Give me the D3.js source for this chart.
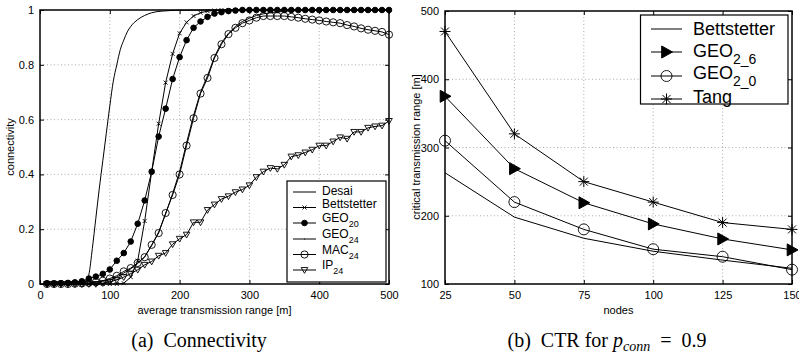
<!DOCTYPE html>
<html><head><meta charset="utf-8">
<script src="https://cdn.jsdelivr.net/npm/d3@7"></script>
<style>
body{margin:0;background:#fff;}
svg{display:block;}
text{font-family:"Liberation Sans",Arial,sans-serif;fill:#000;}
.cap{font-family:"Liberation Serif","Times New Roman",serif;}
</style></head>
<body><svg id="c" width="799" height="360"></svg>
<script>
// ---------- Data: (a) Connectivity ----------
const rangeX = [10,20,30,40,50,60,70,80,90,100,110,120,130,140,150,160,170,180,190,200,210,220,230,240,250,260,270,280,290,300,310,320,330,340,350,360,370,380,390,400,410,420,430,440,450,460,470,480,490,500];
const desaiX = [0,10,20,30,40,50,55,60,65,70,75,80,85,90,95,100,105,110,115,120,125,130,140,150,160,175,200,250,300,400,500];
const desaiY = [0,0,0,0,0,0.001,0.002,0.004,0.01,0.035,0.13,0.24,0.35,0.45,0.55,0.65,0.74,0.8,0.855,0.89,0.92,0.94,0.965,0.98,0.99,0.996,0.999,1,1,1,1];
const bettstetterA = [0,0,0,0,0,0,0,0,0,0,0,0.003,0.025,0.085,0.23,0.41,0.585,0.735,0.84,0.915,0.955,0.978,0.99,0.996,0.998,1,1,1,1,1,1,1,1,1,1,1,1,1,1,1,1,1,1,1,1,1,1,1,1,1];
const geo20 = [0.002,0.002,0.003,0.004,0.006,0.01,0.02,0.027,0.037,0.053,0.085,0.113,0.155,0.22,0.305,0.41,0.538,0.64,0.748,0.828,0.89,0.935,0.958,0.975,0.987,0.992,0.996,0.998,1,1,1,1,1,1,1,1,1,1,1,1,1,1,1,1,1,1,1,1,1,1];
const geo24 = [0,0,0,0,0.001,0.002,0.003,0.006,0.01,0.015,0.025,0.04,0.055,0.075,0.1,0.14,0.19,0.255,0.33,0.41,0.515,0.615,0.7,0.76,0.83,0.88,0.915,0.94,0.958,0.97,0.98,0.986,0.99,0.993,0.995,0.997,0.998,1,1,1,1,1,1,1,1,1,1,1,1,1];
const mac24 = [0,0,0,0,0.001,0.002,0.004,0.007,0.012,0.02,0.03,0.046,0.058,0.077,0.098,0.143,0.186,0.259,0.325,0.4,0.505,0.605,0.695,0.752,0.825,0.875,0.912,0.935,0.952,0.962,0.972,0.978,0.978,0.978,0.978,0.975,0.972,0.968,0.965,0.962,0.958,0.955,0.952,0.945,0.94,0.933,0.928,0.924,0.92,0.91];
const ip24 = [0,0,0,0,0,0,0,0,0.003,0.008,0.015,0.025,0.038,0.052,0.07,0.082,0.103,0.113,0.145,0.165,0.18,0.225,0.225,0.27,0.29,0.31,0.32,0.335,0.345,0.36,0.39,0.41,0.423,0.42,0.435,0.465,0.47,0.48,0.49,0.505,0.505,0.52,0.535,0.53,0.555,0.555,0.57,0.575,0.578,0.595];
const ticksAX = [0,100,200,300,400,500];
const ticksAY = [0,0.2,0.4,0.6,0.8,1];
const ticksAYLabels = ["0","0.2","0.4","0.6","0.8","1"];

// ---------- Data: (b) CTR ----------
const nodes = [25,50,75,100,125,150];
const bettstetterB = [263,198,167,148,135,123];
const geo2_6 = [375,269,219,188,166,150];
const geo2_0 = [310,220,180,151,140,121];
const tang = [470,320,250,220,190,180];
const ticksBX = [25,50,75,100,125,150];
const ticksBY = [100,200,300,400,500];

const svg = d3.select("#c");

function frame(g, x, y, xt, yt, ytl){
  const [x0,x1]=x.range(), [y0,y1]=y.range();
  const grid = g.append("g").attr("stroke","#888").attr("stroke-width",0.7).attr("stroke-dasharray","1,2.5");
  xt.forEach(v=>{ if(v!==x.domain()[0] && v!==x.domain()[1]) grid.append("line").attr("x1",x(v)).attr("x2",x(v)).attr("y1",y0).attr("y2",y1);});
  yt.forEach(v=>{ if(v!==y.domain()[0] && v!==y.domain()[1]) grid.append("line").attr("y1",y(v)).attr("y2",y(v)).attr("x1",x0).attr("x2",x1);});
  const ab = g.append("g").attr("transform",`translate(0,${y0})`).call(d3.axisBottom(x).tickValues(xt).tickSizeInner(-4).tickSizeOuter(0).tickPadding(7));
  const at = g.append("g").attr("transform",`translate(0,${y1})`).call(d3.axisTop(x).tickValues(xt).tickSizeInner(-4).tickSizeOuter(0).tickFormat(""));
  const al = g.append("g").attr("transform",`translate(${x0},0)`).call(d3.axisLeft(y).tickValues(yt).tickSizeInner(-4).tickSizeOuter(0).tickPadding(6).tickFormat((d,i)=>ytl[i]));
  const ar = g.append("g").attr("transform",`translate(${x1},0)`).call(d3.axisRight(y).tickValues(yt).tickSizeInner(-4).tickSizeOuter(0).tickFormat(""));
  [ab,at,al,ar].forEach(a=>{a.select(".domain").remove(); a.selectAll("line").attr("stroke","#000"); a.selectAll("text").attr("font-size",11).attr("font-family","Liberation Sans, Arial, sans-serif").attr("fill","#111");});
  g.append("rect").attr("x",x0).attr("y",y1).attr("width",x1-x0).attr("height",y0-y1).attr("fill","none").attr("stroke","#000").attr("stroke-width",1.5);
}

// ---------- Chart (a) ----------
const xa = d3.scaleLinear().domain([0,500]).range([40,389]);
const ya = d3.scaleLinear().domain([0,1]).range([284,10]);
const ga = svg.append("g");
frame(ga, xa, ya, ticksAX, ticksAY, ticksAYLabels);

const lineA = d3.line().x(d=>xa(d[0])).y(d=>ya(d[1]));
const desaiLine = d3.line().x(d=>xa(d[0])).y(d=>ya(d[1])).curve(d3.curveMonotoneX);
const plotA = ga.append("g").attr("fill","none").attr("stroke","#000").attr("stroke-width",1);

function sym(g, type, cx, cy, s){
  if(type==="x"){
    g.append("path").attr("d",`M${cx-s},${cy-s}L${cx+s},${cy+s}M${cx-s},${cy+s}L${cx+s},${cy-s}`).attr("stroke","#000").attr("fill","none").attr("stroke-width",0.9);
  } else if(type==="dot"){
    g.append("circle").attr("cx",cx).attr("cy",cy).attr("r",s).attr("fill","#000").attr("stroke","#000");
  } else if(type==="o"){
    g.append("circle").attr("cx",cx).attr("cy",cy).attr("r",s).attr("fill","none").attr("stroke","#000").attr("stroke-width",0.9);
  } else if(type==="v"){
    g.append("path").attr("d",`M${cx-s},${cy-s*0.75}L${cx+s},${cy-s*0.75}L${cx},${cy+s}Z`).attr("fill","none").attr("stroke","#000").attr("stroke-width",0.9);
  } else if(type===">"){
    g.append("path").attr("d",`M${cx-s*0.8},${cy-s}L${cx+s},${cy}L${cx-s*0.8},${cy+s}Z`).attr("fill","#000").attr("stroke","#000");
  } else if(type==="*"){
    const d=s*0.72;
    g.append("path").attr("d",`M${cx-s},${cy}L${cx+s},${cy}M${cx},${cy-s}L${cx},${cy+s}M${cx-d},${cy-d}L${cx+d},${cy+d}M${cx-d},${cy+d}L${cx+d},${cy-d}`).attr("stroke","#000").attr("fill","none").attr("stroke-width",1);
  } else if(type==="."){
    g.append("circle").attr("cx",cx).attr("cy",cy).attr("r",s).attr("fill","#000");
  }
}

plotA.append("path").attr("d",desaiLine(desaiX.map((v,i)=>[v,desaiY[i]])));
const seriesA = [
  {vals:bettstetterA, m:"x", s:2},
  {vals:geo24, m:null, s:0},
  {vals:mac24, m:"o", s:3.6},
  {vals:ip24, m:"v", s:3.3},
  {vals:geo20, m:"dot", s:2.8},
];
seriesA.forEach(sr=>{
  const pts = rangeX.map((v,i)=>[v,sr.vals[i]]);
  plotA.append("path").attr("d",lineA(pts));
  if(sr.m){ const mg = ga.append("g"); pts.forEach(p=>sym(mg, sr.m, xa(p[0]), ya(p[1]), sr.s)); }
});

ga.append("text").attr("x",(40+389)/2).attr("y",314).attr("text-anchor","middle").attr("font-size",11).text("average transmission range [m]");
ga.append("text").attr("transform","translate(14,147) rotate(-90)").attr("text-anchor","middle").attr("font-size",11).text("connectivity");

// legend (a)
const legA = ga.append("g");
legA.append("rect").attr("x",287).attr("y",181).attr("width",99).attr("height",101).attr("fill","#fff").attr("stroke","#000").attr("stroke-width",1.2);
const legItemsA = [
  {t:"Desai", sub:null, m:null},
  {t:"Bettstetter", sub:null, m:"x"},
  {t:"GEO", sub:"20", m:"dot"},
  {t:"GEO", sub:"24", m:"."},
  {t:"MAC", sub:"24", m:"o"},
  {t:"IP", sub:"24", m:"v"},
];
const legAY = [192,207.5,223,239,254.5,270];
const legATextY = [194.5,207.5,222,238,253.5,269];
const legASize = {"x":2,"dot":2.8,".":0.6,"o":3.6,"v":3.3};
legItemsA.forEach((it,i)=>{
  const y = legAY[i];
  legA.append("line").attr("x1",293).attr("x2",316).attr("y1",y).attr("y2",y).attr("stroke","#000").attr("stroke-width",1);
  if(it.m) sym(legA, it.m, 304.5, y, legASize[it.m]);
  const t = legA.append("text").attr("x",322).attr("y", legATextY[i]).attr("font-size",12);
  t.append("tspan").text(it.t);
  if(it.sub) t.append("tspan").attr("dy",5).attr("font-size",9).text(it.sub);
});

// ---------- Chart (b) ----------
const xb = d3.scaleLinear().domain([25,150]).range([445,792]);
const yb = d3.scaleLinear().domain([100,500]).range([284,11]);
const gb = svg.append("g");
frame(gb, xb, yb, ticksBX, ticksBY, ticksBY.map(String));

const lineB = d3.line().x(d=>xb(d[0])).y(d=>yb(d[1]));
const seriesB = [
  {vals:bettstetterB, m:null, s:0},
  {vals:geo2_0, m:"o", s:5.5},
  {vals:geo2_6, m:">", s:6},
  {vals:tang, m:"*", s:5.5},
];
seriesB.forEach(sr=>{
  const pts = nodes.map((v,i)=>[v,sr.vals[i]]);
  gb.append("path").attr("d",lineB(pts)).attr("fill","none").attr("stroke","#000").attr("stroke-width",1);
  if(sr.m){ const mg = gb.append("g"); pts.forEach(p=>sym(mg, sr.m, xb(p[0]), yb(p[1]), sr.s)); }
});
gb.append("text").attr("x",(445+792)/2).attr("y",314).attr("text-anchor","middle").attr("font-size",11).text("nodes");
gb.append("text").attr("transform","translate(420,147) rotate(-90)").attr("text-anchor","middle").attr("font-size",11).text("critical transmission range [m]");

// legend (b)
const legB = gb.append("g");
legB.append("rect").attr("x",640.5).attr("y",15).attr("width",147.5).attr("height",89).attr("fill","#fff").attr("stroke","#000").attr("stroke-width",1.2);
const legItemsB = [
  {t:"Bettstetter", sub:null, m:null, s:0},
  {t:"GEO", sub:"2_6", m:">", s:6},
  {t:"GEO", sub:"2_0", m:"o", s:5.5},
  {t:"Tang", sub:null, m:"*", s:5.5},
];
const legBY = [29,52,76,99];
const legBTextY = [35,56.5,79,103];
legItemsB.forEach((it,i)=>{
  const y = legBY[i];
  legB.append("line").attr("x1",651).attr("x2",682).attr("y1",y).attr("y2",y).attr("stroke","#000").attr("stroke-width",1);
  if(it.m) sym(legB, it.m, 666.5, y, it.s);
  const t = legB.append("text").attr("x",693).attr("y", legBTextY[i]).attr("font-size",18);
  t.append("tspan").text(it.t);
  if(it.sub) t.append("tspan").attr("dy",7).attr("font-size",14).text(it.sub);
});

// ---------- Captions ----------
svg.append("text").attr("class","cap").attr("x",199).attr("y",347).attr("text-anchor","middle").attr("font-size",20).attr("xml:space","preserve").text("(a)  Connectivity");
const cb = svg.append("text").attr("class","cap").attr("x",607).attr("y",347).attr("text-anchor","middle").attr("font-size",20).attr("xml:space","preserve");
cb.append("tspan").text("(b)  CTR for ");
cb.append("tspan").attr("font-style","italic").text("p");
cb.append("tspan").attr("font-style","italic").attr("font-size",14).attr("dy",4).text("conn");
cb.append("tspan").attr("dy",-4).text("  =  0.9");
</script>
</body></html>
